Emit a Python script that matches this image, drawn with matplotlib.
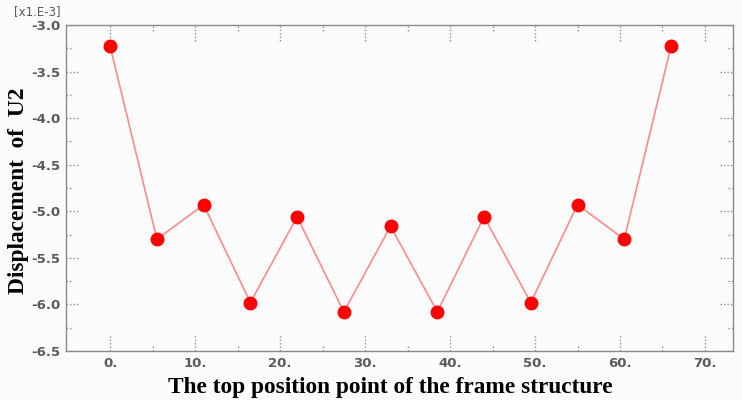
import matplotlib
matplotlib.use("Agg")
import matplotlib.pyplot as plt
import matplotlib.transforms as mtransforms
import numpy as np

# top nodes of the frame and their U2 displacement (x1e-3)
positions = [0, 5.5, 11, 16.5, 22, 27.5, 33, 38.5, 44, 49.5, 55, 60.5, 66]
u2 = [-3.23, -5.30, -4.93, -5.98, -5.06, -6.08, -5.16,
      -6.08, -5.06, -5.98, -4.93, -5.30, -3.23]

x_ticks = [0, 10, 20, 30, 40, 50, 60, 70]
x_tick_labels = ["0.", "10.", "20.", "30.", "40.", "50.", "60.", "70."]
y_ticks = [-6.5, -6.0, -5.5, -5.0, -4.5, -4.0, -3.5, -3.0]
y_tick_labels = ["-6.5", "-6.0", "-5.5", "-5.0", "-4.5", "-4.0", "-3.5", "-3.0"]

BG = "#fcfcfc"
GRAY = "#5a5a5a"

fig = plt.figure(figsize=(7.42, 4.0), dpi=100, facecolor=BG)
ax = fig.add_axes([66 / 742, 1 - 351 / 400, (733 - 66) / 742, (351 - 25) / 400])
ax.set_facecolor(BG)

ax.plot(positions, u2, color="#ff8a8a", linewidth=1.2, zorder=2)
ax.plot(positions, u2, linestyle="none", marker="o", markersize=9,
        color="#ff0000", zorder=3)

ax.set_xlim(-5.2, 73.3)
ax.set_ylim(-6.5, -3.0)
ax.set_xticks(x_ticks)
ax.set_xticklabels(x_tick_labels)
ax.set_yticks(y_ticks)
ax.set_yticklabels(y_tick_labels)
ax.tick_params(length=0, pad=4, colors=GRAY, labelsize=9.5)
for lab in ax.get_xticklabels() + ax.get_yticklabels():
    lab.set_fontweight("bold")
for sp in ax.spines.values():
    sp.set_color("#8a8a8a")
    sp.set_linewidth(1.0)

# dotted inward ticks on all four sides
tx = mtransforms.blended_transform_factory(ax.transData, ax.transAxes)
ty = mtransforms.blended_transform_factory(ax.transAxes, ax.transData)
h = ax.get_position().height * 400
w = ax.get_position().width * 742
tick_style = dict(color="#8a8a8a", linewidth=1.0, linestyles=(0, (1, 1.5)))
x_minor = np.arange(5, 75, 10)
y_minor = np.arange(-6.25, -3.0, 0.5)
ax.vlines(x_ticks, 0, 16 / h, transform=tx, **tick_style)
ax.vlines(x_ticks, 1 - 16 / h, 1, transform=tx, **tick_style)
ax.vlines(x_minor, 0, 6 / h, transform=tx, **tick_style)
ax.vlines(x_minor, 1 - 6 / h, 1, transform=tx, **tick_style)
ax.hlines(y_ticks, 0, 13 / w, transform=ty, **tick_style)
ax.hlines(y_ticks, 1 - 13 / w, 1, transform=ty, **tick_style)
ax.hlines(y_minor, 0, 5 / w, transform=ty, **tick_style)
ax.hlines(y_minor, 1 - 5 / w, 1, transform=ty, **tick_style)

fig.text(390 / 742, 1 - 393 / 400, "The top position point of the frame structure",
         family="Liberation Serif", fontweight="bold", fontsize=16.8,
         ha="center", va="baseline")
fig.text(19 / 742, 1 - 191 / 400, "Displacement  of  U2", family="Liberation Serif",
         fontweight="bold", fontsize=16.8, rotation=90, ha="center", va="center")
fig.text(14 / 742, 1 - 15 / 400, "[x1.E-3]", fontsize=8.5, color=GRAY,
         ha="left", va="baseline")

fig.savefig("out.png", dpi=100, facecolor=BG)
